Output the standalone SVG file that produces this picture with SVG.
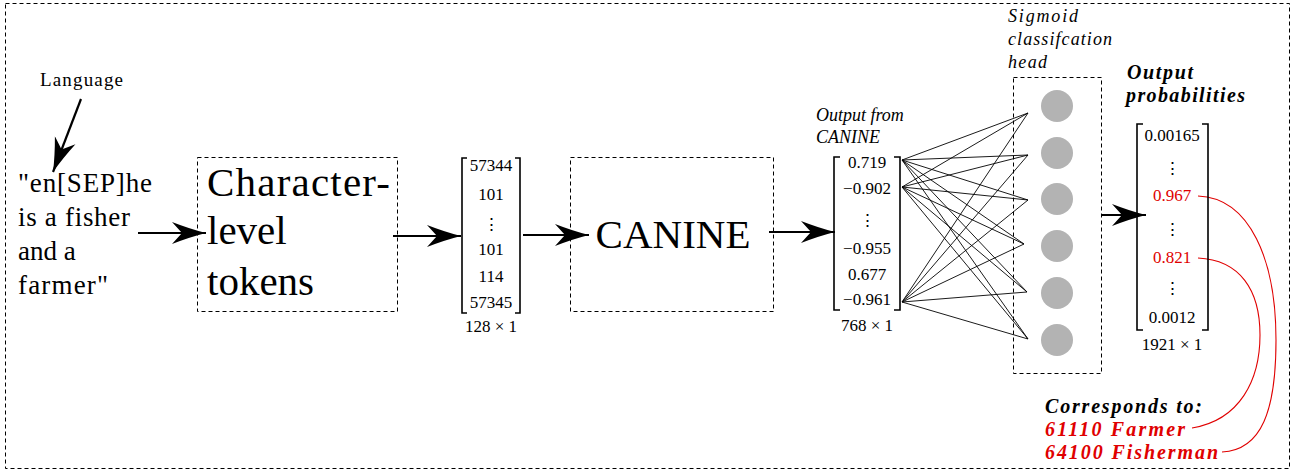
<svg xmlns="http://www.w3.org/2000/svg" width="1295" height="472" viewBox="0 0 1295 472">
<style>
text{font-family:"Liberation Serif","DejaVu Serif",serif;fill:#000}
.dash{fill:none;stroke:#000;stroke-width:1;stroke-dasharray:4,3}
.arr{stroke:#000;stroke-width:2.2;fill:none;marker-end:url(#stealth)}
.br{fill:none;stroke:#000;stroke-width:1.6}
.m{font-family:"Liberation Serif",serif;font-size:17px;text-anchor:middle}
.it{font-family:"Liberation Serif",serif;font-style:italic;font-size:18px}
.bi{font-family:"Liberation Serif",serif;font-style:italic;font-weight:bold;font-size:20px}
.red{fill:#e00000}
.fc{stroke:#000;stroke-width:0.9}
.nd{fill:#b3b3b3}
.rc{fill:none;stroke:#e00000;stroke-width:1.1}
</style>
<defs>
<marker id="stealth" markerUnits="userSpaceOnUse" markerWidth="36" markerHeight="24" refX="34" refY="12" orient="auto">
<path d="M0,1 Q18,8 34,12 Q18,16 0,23 L10,12 z" fill="#000"/>
</marker>
</defs>
<rect class="dash" x="5.5" y="3.5" width="1284" height="465"/>
<g id="connectors">
<line class="arr" x1="81" y1="99" x2="53" y2="172"/>
<line class="arr" x1="138" y1="233" x2="206" y2="233"/>
<line class="arr" x1="393" y1="236" x2="461" y2="236"/>
<line class="arr" x1="523" y1="235" x2="589" y2="235"/>
<line class="arr" x1="769" y1="232" x2="835" y2="232"/>
<line class="arr" x1="1101" y1="215" x2="1146" y2="215"/>
<g class="fc">
<line x1="902" y1="160" x2="1028" y2="113"/><line x1="902" y1="160" x2="1028" y2="155"/><line x1="902" y1="160" x2="1028" y2="200"/><line x1="902" y1="160" x2="1024" y2="244"/><line x1="902" y1="160" x2="1027" y2="292"/><line x1="902" y1="160" x2="1028" y2="339"/>
<line x1="902" y1="187" x2="1028" y2="113"/><line x1="902" y1="187" x2="1028" y2="155"/><line x1="902" y1="187" x2="1028" y2="200"/><line x1="902" y1="187" x2="1024" y2="244"/><line x1="902" y1="187" x2="1027" y2="292"/><line x1="902" y1="187" x2="1028" y2="339"/>
<line x1="902" y1="302" x2="1028" y2="113"/><line x1="902" y1="302" x2="1028" y2="155"/><line x1="902" y1="302" x2="1028" y2="200"/><line x1="902" y1="302" x2="1024" y2="244"/><line x1="902" y1="302" x2="1027" y2="292"/><line x1="902" y1="302" x2="1028" y2="339"/>
</g>
<path class="rc" d="M1198,196 C1250,198 1276,260 1276,340 C1276,410 1262,450 1222,452"/>
<path class="rc" d="M1198,258 C1240,260 1260,290 1260,335 C1260,380 1240,420 1192,428"/>
</g>
<g id="language"><text x="40" y="86" font-size="19" textLength="83" lengthAdjust="spacing">Language</text></g>
<g id="input">
<text font-size="27">
<tspan x="18" y="192" textLength="134" lengthAdjust="spacing">"en[SEP]he</tspan>
<tspan x="18" y="226" textLength="112" lengthAdjust="spacing">is a fisher</tspan>
<tspan x="18" y="260">and a</tspan>
<tspan x="18" y="294" textLength="90" lengthAdjust="spacing">farmer"</tspan>
</text>
</g>
<g id="char-tokens">
<rect class="dash" x="197.5" y="157.5" width="200" height="154"/>
<text font-size="41">
<tspan x="207" y="196" textLength="183" lengthAdjust="spacing">Character-</tspan>
<tspan x="207" y="244">level</tspan>
<tspan x="207" y="295">tokens</tspan>
</text>
</g>
<g id="token-vector">
<path class="br" d="M467,158 H462 V313 H467 M515,158 H520 V313 H515"/>
<text class="m" x="491" y="171">57344</text>
<text class="m" x="491" y="200">101</text>
<text class="m" x="491" y="230">⋮</text>
<text class="m" x="491" y="255">101</text>
<text class="m" x="491" y="282">114</text>
<text class="m" x="491" y="308">57345</text>
<text class="m" x="491" y="332">128 × 1</text>
</g>
<g id="canine">
<rect class="dash" x="570.5" y="157.5" width="203" height="154"/>
<text x="673" y="248" font-size="41" text-anchor="middle">CANINE</text>
</g>
<g id="canine-output">
<text class="it" font-size="17"><tspan x="816" y="121">Output from</tspan><tspan x="816" y="143">CANINE</tspan></text>
<path class="br" d="M840,157 H834 V310 H840 M894,157 H900 V310 H894"/>
<text class="m" x="867" y="168">0.719</text>
<text class="m" x="867" y="194">−0.902</text>
<text class="m" x="867" y="226">⋮</text>
<text class="m" x="867" y="254">−0.955</text>
<text class="m" x="867" y="280">0.677</text>
<text class="m" x="867" y="305">−0.961</text>
<text class="m" x="867" y="331">768 × 1</text>
</g>
<g id="sigmoid-head">
<text class="it"><tspan x="1008" y="22" textLength="70" lengthAdjust="spacing">Sigmoid</tspan><tspan x="1008" y="45" textLength="104" lengthAdjust="spacing">classifcation</tspan><tspan x="1008" y="68" textLength="39" lengthAdjust="spacing">head</tspan></text>
<rect class="dash" x="1013.5" y="77.5" width="88" height="296"/>
<circle class="nd" cx="1057" cy="106" r="16"/>
<circle class="nd" cx="1057" cy="153" r="16"/>
<circle class="nd" cx="1057" cy="199" r="16"/>
<circle class="nd" cx="1057" cy="246" r="16"/>
<circle class="nd" cx="1057" cy="293" r="16"/>
<circle class="nd" cx="1057" cy="340" r="16"/>
</g>
<g id="output-probs">
<text class="bi"><tspan x="1127" y="79" textLength="66" lengthAdjust="spacing">Output</tspan><tspan x="1126" y="102" textLength="119" lengthAdjust="spacing">probabilities</tspan></text>
<path class="br" d="M1143,124 H1137 V330 H1143 M1202,124 H1208 V330 H1202"/>
<text class="m" x="1172" y="141">0.00165</text>
<text class="m" x="1172" y="174">⋮</text>
<text class="m red" x="1172" y="201">0.967</text>
<text class="m" x="1172" y="235">⋮</text>
<text class="m red" x="1172" y="263">0.821</text>
<text class="m" x="1172" y="294">⋮</text>
<text class="m" x="1172" y="323">0.0012</text>
<text class="m" x="1172" y="350">1921 × 1</text>
</g>
<g id="corresponds">
<text class="bi" x="1045" y="413" textLength="157" lengthAdjust="spacing">Corresponds to:</text>
<text class="bi red" x="1045" y="436" textLength="140" lengthAdjust="spacing">61110 Farmer</text>
<text class="bi red" x="1045" y="459" textLength="173" lengthAdjust="spacing">64100 Fisherman</text>
</g>
</svg>
